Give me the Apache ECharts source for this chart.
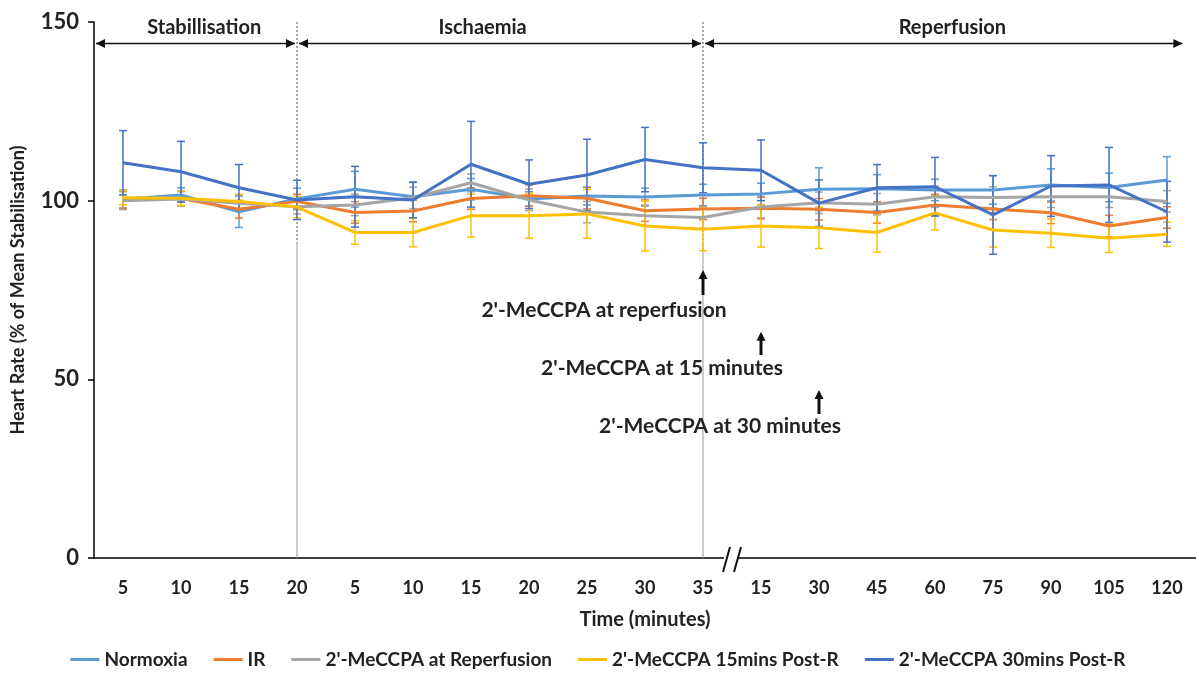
<!DOCTYPE html>
<html>
<head>
<meta charset="utf-8">
<script src="https://cdn.jsdelivr.net/npm/echarts@6/dist/echarts.min.js"></script>
<style>html,body{margin:0;padding:0;background:#fff}#c{width:1196px;height:674px}</style>
</head>
<body>
<div id="c"></div>
<script>
const categories = ['5','10','15','20','5','10','15','20','25','30','35','15','30','45','60','75','90','105','120'];
const seriesNames = ['Normoxia','IR',"2'-MeCCPA at Reperfusion","2'-MeCCPA 15mins Post-R","2'-MeCCPA 30mins Post-R"];
const colors = ['#5B9BD5','#ED7D31','#A5A5A5','#FFC000','#4472C4'];
const normoxia = [100.4,101.6,96.9,100.5,103.2,101.1,103.2,100.5,101.3,101.0,101.6,101.9,103.2,103.3,103.0,103.0,104.4,103.7,105.8];
const ir       = [100.4,100.6,97.6,99.8,96.7,97.1,100.6,101.4,100.7,97.2,97.7,97.9,97.6,96.7,98.8,97.7,96.6,92.9,95.3];
const mecReperf= [100.0,100.5,99.3,98.3,98.8,100.8,105.0,100.2,96.8,95.8,95.3,98.2,99.4,99.0,101.1,100.9,101.1,101.1,99.8];
const mec15    = [100.8,100.7,99.8,98.2,91.1,91.1,95.8,95.8,96.3,92.9,92.0,92.9,92.4,91.1,96.6,91.8,90.9,89.5,90.6];
const mec30    = [110.6,108.1,103.6,100.2,101.1,100.2,110.2,104.6,107.2,111.5,109.2,108.5,99.3,103.6,103.9,96.0,104.1,104.4,96.9];
const errNormoxia = [2.5,2,4.4,3,5,4,3,2,2.5,2.5,3,3,6,4,3,4,4.5,4,6.5];
const errIR       = [2.5,2,2.5,2,3,3,3,3,3,3,3,3,3,3,3,3,3,3,3];
const errReperf   = [2.5,2,2,2,3,3,2.5,3,3,3,3,3,3,3,3,3,3,3,3];
const err15       = [2,2,2,3,3.3,4,6,6.3,6.8,7,6,5.9,5.8,5.5,4.8,4.8,4,4,3.4];
const err30       = [9,8.5,6.5,5.5,8.5,5,12,6.8,10,9,7,8.5,6.5,6.5,8.2,11,8.5,10.5,8.5];
const yTicks = {min:0, max:150, interval:50};
const phases = [
  {label:'Stabillisation', from:-0.5, to:3, textAt:1.4},
  {label:'Ischaemia', from:3, to:10, textAt:6.2},
  {label:'Reperfusion', from:10, to:18.3, textAt:14.3}
];
const annotations = [
  {text:"2'-MeCCPA at reperfusion", idx:10, from:73.6, to:80.6, textY:69.4},
  {text:"2'-MeCCPA at 15 minutes", idx:11, from:56.8, to:63.3, textY:53.2},
  {text:"2'-MeCCPA at 30 minutes", idx:12, from:40.3, to:47.0, textY:37.0}
];
const phaseY = 144;

const FONT = 'Lato';
const allVals = [normoxia, ir, mecReperf, mec15, mec30];
const allErr = [errNormoxia, errIR, errReperf, err15, err30];

const chart = echarts.init(document.getElementById('c'), null, {renderer:'canvas'});

function errRender(color){
  return function(params, api){
    const x = api.value(0), y = api.value(1), e = api.value(2);
    const t = api.coord([x, y+e]), b = api.coord([x, y-e]);
    const hw = 4;
    const st = {stroke:color, lineWidth:1.5};
    return {type:'group', children:[
      {type:'line', shape:{x1:t[0],y1:t[1],x2:b[0],y2:b[1]}, style:st},
      {type:'line', shape:{x1:t[0]-hw,y1:t[1],x2:t[0]+hw,y2:t[1]}, style:st},
      {type:'line', shape:{x1:b[0]-hw,y1:b[1],x2:b[0]+hw,y2:b[1]}, style:st}
    ]};
  };
}

const series = [];
allVals.forEach((vals, k) => {
  series.push({
    name: seriesNames[k] + ' err', type:'custom', renderItem: errRender(colors[k]),
    data: categories.map((c,i)=>[i, vals[i], allErr[k][i]]),
    encode:{x:0,y:1}, z:2, silent:true
  });
});
allVals.forEach((vals, k) => {
  series.push({
    name: seriesNames[k], type:'line', data: vals, showSymbol:false, symbol:'none',
    lineStyle:{color:colors[k], width:3}, itemStyle:{color:colors[k]}, z:3+k
  });
});

chart.setOption({
  animation:false,
  color: colors,
  grid:{left:94, right:0, top:22, bottom:116, containLabel:false},
  xAxis:{
    type:'category', data:categories, boundaryGap:true,
    axisLine:{lineStyle:{color:'#000', width:1.5}},
    axisTick:{alignWithLabel:true, length:6, lineStyle:{color:'#000', width:1.5}},
    axisLabel:{margin:21, fontFamily:FONT, fontWeight:'bold', fontSize:18, color:'#222', interval:0},
    name:'Time (minutes)', nameLocation:'middle', nameGap:52,
    nameTextStyle:{fontFamily:FONT, fontWeight:'bold', fontSize:20, color:'#222'},
    splitLine:{show:false}
  },
  yAxis:{
    type:'value', min:yTicks.min, max:yTicks.max, interval:yTicks.interval,
    axisLine:{show:true, lineStyle:{color:'#000', width:1.5}},
    axisTick:{show:true, length:6, lineStyle:{color:'#000', width:1.5}},
    axisLabel:{margin:15, fontFamily:FONT, fontWeight:'bold', fontSize:22, color:'#222'},
    splitLine:{show:false},
    name:'Heart Rate (% of Mean Stabilisation)', nameLocation:'middle', nameGap:67,
    nameTextStyle:{fontFamily:FONT, fontWeight:'bold', fontSize:18, color:'#222'}
  },
  legend:{
    data: seriesNames, bottom:0, left:'center', icon:'rect', itemWidth:29, itemHeight:3, itemGap:26,
    textStyle:{fontFamily:FONT, fontWeight:'bold', fontSize:19, color:'#222'}
  },
  series: series
});

const P = (i, v) => chart.convertToPixel({gridIndex:0}, [i, v]);
const x0 = P(0,0)[0], band = P(1,0)[0] - x0;
const xAt = i => x0 + i*band;
const yAt = v => P(0, v)[1];
const g = [];
const ink = '#111';
[3,10].forEach(i => {
  const x = xAt(i);
  g.push({type:'line', shape:{x1:x, y1:yAt(150), x2:x, y2:yAt(88)}, style:{stroke:'#555', lineWidth:1, lineDash:[2,2]}, z:1});
  g.push({type:'line', shape:{x1:x, y1:yAt(88), x2:x, y2:yAt(0)}, style:{stroke:'#999', lineWidth:1}, z:1});
});
function arrowHead(x, y, dir){
  return {type:'polygon', shape:{points:[[x,y],[x-dir*9,y-4.5],[x-dir*9,y+4.5]]}, style:{fill:ink}, z:10};
}
const py = yAt(phaseY);
phases.forEach(ph => {
  const a = xAt(ph.from) + 2, b = xAt(ph.to) - 2;
  g.push({type:'line', shape:{x1:a, y1:py, x2:b, y2:py}, style:{stroke:ink, lineWidth:1.5}, z:10});
  g.push(arrowHead(a, py, -1));
  g.push(arrowHead(b, py, 1));
  g.push({type:'text', x:xAt(ph.textAt), y:py - 16, style:{text:ph.label, fontFamily:FONT, fontWeight:'bold', fontSize:20, fill:'#222', align:'center', verticalAlign:'middle'}, z:10});
});
annotations.forEach(an => {
  const x = xAt(an.idx), y1 = yAt(an.from), y2 = yAt(an.to);
  g.push({type:'line', shape:{x1:x, y1:y1, x2:x, y2:y2+6}, style:{stroke:ink, lineWidth:3}, z:10});
  g.push({type:'polygon', shape:{points:[[x,y2],[x-4.5,y2+9],[x+4.5,y2+9]]}, style:{fill:ink}, z:10});
  g.push({type:'text', x:x - 99, y:yAt(an.textY), style:{text:an.text, fontFamily:FONT, fontWeight:'bold', fontSize:21, fill:'#222', align:'center', verticalAlign:'middle'}, z:10});
});
const xb = (xAt(10)+xAt(11))/2, yb = yAt(0);
g.push({type:'rect', shape:{x:xb-8, y:yb-2, width:14, height:4}, style:{fill:'#fff'}, z:9});
g.push({type:'line', shape:{x1:xb-9, y1:yb+14, x2:xb-2, y2:yb-11}, style:{stroke:ink, lineWidth:2}, z:10});
g.push({type:'line', shape:{x1:xb+2, y1:yb+14, x2:xb+9, y2:yb-11}, style:{stroke:ink, lineWidth:2}, z:10});
chart.setOption({graphic: g});
</script>
</body>
</html>
